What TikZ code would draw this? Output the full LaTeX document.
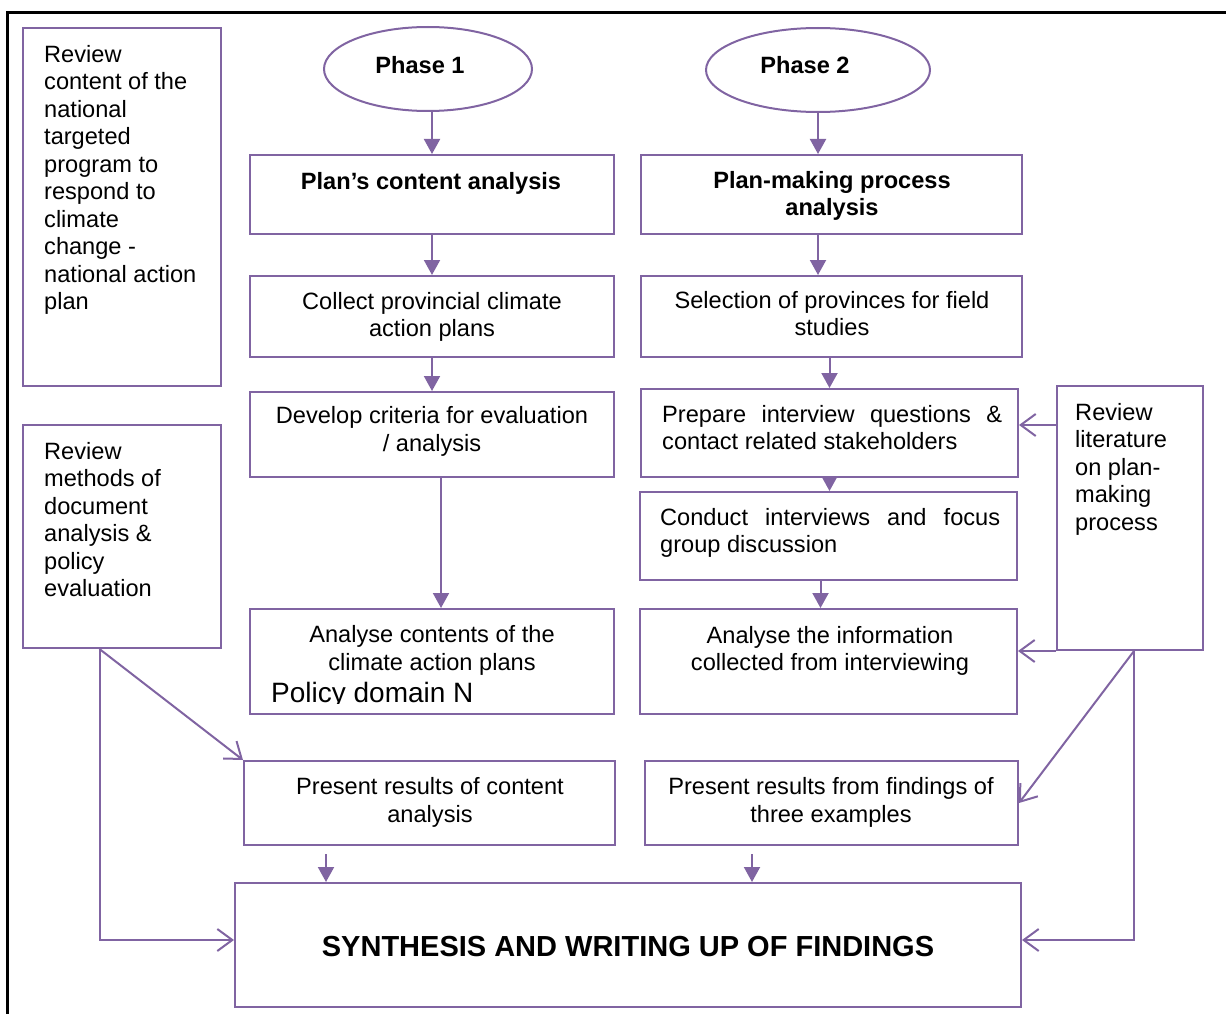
\documentclass[tikz,border=0pt]{standalone}
\usepackage{fontspec}
\setmainfont{Liberation Sans}
\usetikzlibrary{shapes.geometric,arrows.meta}
\definecolor{pp}{HTML}{8064A2}
\newcommand\bodyfs{\fontsize{23.6}{27.5}\selectfont}
\newcommand\policyfs{\fontsize{28}{32}\selectfont}
\newcommand\synthfs{\fontsize{29}{33}\selectfont}
\tikzset{
  pbox/.style={draw=pp, line width=2pt, inner sep=0pt, rectangle},
  pell/.style={draw=pp, line width=2pt, inner sep=0pt, ellipse},
  txt/.style={inner sep=0pt, font=\bodyfs, align=center},
  btxt/.style={inner sep=0pt, font=\bodyfs\bfseries, align=center},
  ltxt/.style={inner sep=0pt, font=\bodyfs, align=left, anchor=north west},
  jtxt/.style={inner sep=0pt, font=\bodyfs, align=justify, text width=340pt, anchor=north west},
  farrow/.style={draw=pp, line width=2pt, -{Triangle[length=15pt,width=16pt]}},
  oarrow/.style={draw=pp, line width=2pt, -{Straight Barb[length=15pt,width=22pt]}}
}
\begin{document}
\begin{tikzpicture}[x=1pt, y={(0pt,-1pt)}]
\useasboundingbox (0,0) rectangle (1226,1014);
\clip (0,0) rectangle (1226,1014);

% outer frame
\draw[line width=3pt] (7,1030) -- (7,12.5) -- (1240,12.5);

% side review boxes
\node[pbox, minimum width=198pt, minimum height=358pt] (ra) at (122,207) {};
\node[pbox, minimum width=198pt, minimum height=223pt] (rb) at (122,536.5) {};
\node[pbox, minimum width=146pt, minimum height=264pt] (rl) at (1130,518) {};

% phase ellipses
\node[pell, minimum width=208pt, minimum height=84pt] (ph1) at (428,69) {};
\node[pell, minimum width=224pt, minimum height=84pt] (ph2) at (818,70) {};

% phase 1 column
\node[pbox, minimum width=364pt, minimum height=79pt] (plan) at (432,194.5) {};
\node[pbox, minimum width=364pt, minimum height=81pt] (coll) at (432,316.5) {};
\node[pbox, minimum width=364pt, minimum height=85pt] (dev) at (432,434.5) {};
\node[pbox, minimum width=364pt, minimum height=105pt] (ac) at (432,661.5) {};
\node[pbox, minimum width=371pt, minimum height=84pt] (pc) at (429.5,803) {};

% phase 2 column
\node[pbox, minimum width=381pt, minimum height=79pt] (pm) at (831.5,194.5) {};
\node[pbox, minimum width=381pt, minimum height=81pt] (sel) at (831.5,316.5) {};
\node[pbox, minimum width=377pt, minimum height=88pt] (prep) at (829.5,433) {};
\node[pbox, minimum width=377pt, minimum height=88pt] (cond) at (828.5,536) {};
\node[pbox, minimum width=377pt, minimum height=105pt] (ai) at (828.5,661.5) {};
\node[pbox, minimum width=373pt, minimum height=84pt] (pt) at (831.5,803) {};

% final box
\node[pbox, minimum width=786pt, minimum height=124pt] (syn) at (628,945) {};

% texts
\node[ltxt] (tra) at (44,45) {Review\\content of the\\national\\targeted\\program to\\respond to\\climate\\change -\\national action\\plan};
\node[ltxt] (trb) at (44,442) {Review\\methods of\\document\\analysis \&\\policy\\evaluation};
\node[ltxt] (trl) at (1075,403) {Review\\literature\\on plan-\\making\\process};

\node[btxt] (tph1) at (420,65) {Phase 1};
\node[btxt] (tph2) at (805,65) {Phase 2};

\node[btxt] (tplan) at (431,183) {Plan’s content analysis};
\node[txt] (tcoll) at (432,317) {Collect provincial climate\\action plans};
\node[txt] (tdev) at (432,431.5) {Develop criteria for evaluation\\/ analysis};
\node[txt] (tac) at (432,650.5) {Analyse contents of the\\climate action plans};
\begin{scope}
  \clip (250,600) rectangle (614,703.5);
  \node[inner sep=0pt, font=\policyfs, anchor=base west] (tpol) at (271,702) {Policy domain N};
\end{scope}
\node[txt] (tpc) at (430,802.5) {Present results of content\\analysis};

\node[btxt] (tpm) at (832,196) {Plan-making process\\analysis};
\node[txt] (tsel) at (832,313.5) {Selection of provinces for field\\studies};
\node[jtxt] (tprep) at (662,405) {Prepare interview questions \&\linebreak contact related stakeholders};
\node[jtxt] (tcond) at (660,508) {Conduct interviews and focus\linebreak group discussion};
\node[txt] (tai) at (830,651) {Analyse the information\\collected from interviewing};
\node[txt] (tpt) at (831,802.5) {Present results from findings of\\three examples};

\node[inner sep=0pt, font=\synthfs\bfseries] (tsyn) at (628,947) {SYNTHESIS AND WRITING UP OF FINDINGS};

% main flow arrows
\draw[farrow] (ph1.south -| plan.north) -- (plan.north);
\draw[farrow] (plan.south) -- (coll.north);
\draw[farrow] (coll.south) -- (dev.north);
\draw[farrow] ([xshift=9pt]dev.south) -- ([xshift=9pt]ac.north);

\draw[farrow] (ph2.south) -- (ph2.south |- pm.north);
\draw[farrow] (pm.south -| ph2.south) -- (sel.north -| ph2.south);
\draw[farrow] (sel.south -| prep.north) -- (prep.north);
\draw[farrow] (prep.south) -- (prep.south |- cond.north);
\draw[farrow] ([xshift=-8pt]cond.south) -- ([xshift=-8pt]cond.south |- ai.north);

\coordinate (pcout) at ([shift={(-103.5pt,-8pt)}]pc.south);
\draw[farrow] (pcout) -- (pcout |- syn.north);
\coordinate (ptout) at ([shift={(-79.5pt,-8pt)}]pt.south);
\draw[farrow] (ptout) -- (ptout |- syn.north);

% review inputs
\coordinate (rlin) at ([yshift=-40pt]rl.north west);
\draw[oarrow] (rlin) -- (rlin -| prep.east);
\draw[oarrow] (rl.south west) -- (rl.south west -| ai.east);
\coordinate (rlout) at ([xshift=4pt]rl.south);
\draw[oarrow] (rlout) -- (pt.east);
\draw[oarrow] (rlout) |- ([yshift=5pt]syn.east);

\coordinate (rbout) at ([xshift=-22.5pt]rb.south);
\draw[oarrow] (rbout) |- ([yshift=5pt]syn.west);
\draw[oarrow] (rbout) -- (pc.north west);
\end{tikzpicture}
\end{document}
